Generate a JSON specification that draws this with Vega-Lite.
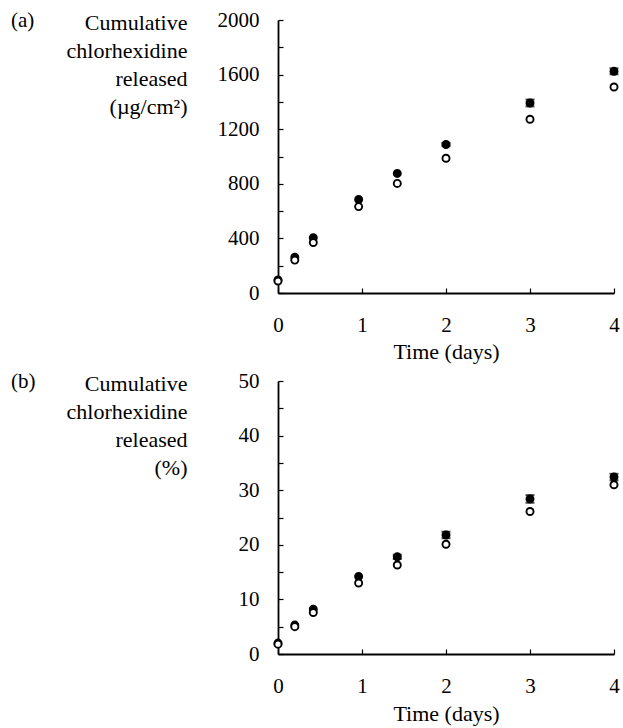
{
  "$schema": "https://vega.github.io/schema/vega-lite/v6.json",
  "background": "white",
  "padding": {"left": 11, "top": 9, "right": 5, "bottom": 3},
  "spacing": 8,
  "config": {
    "font": "Liberation Serif",
    "view": {"stroke": null},
    "axis": {
      "domainColor": "black", "domainWidth": 1.8,
      "tickColor": "black", "tickWidth": 1.2, "tickSize": -5,
      "labelFont": "Liberation Serif", "labelFontSize": 21, "labelColor": "black",
      "titleFont": "Liberation Serif", "titleFontSize": 22, "titleFontWeight": "normal", "titleColor": "black",
      "grid": false, "labelFlush": false, "labelOverlap": false
    },
    "title": {"font": "Liberation Serif", "fontSize": 21, "fontWeight": "normal", "color": "black", "anchor": "start", "frame": "group"}
  },
  "datasets": {
    "a": [
      {"series": "filled", "t": 0, "value": 95, "err": 0},
      {"series": "filled", "t": 0.2, "value": 262, "err": 0},
      {"series": "filled", "t": 0.42, "value": 405, "err": 0},
      {"series": "filled", "t": 0.96, "value": 685, "err": 0},
      {"series": "filled", "t": 1.42, "value": 876, "err": 0},
      {"series": "filled", "t": 2, "value": 1088, "err": 10},
      {"series": "filled", "t": 3, "value": 1392, "err": 25},
      {"series": "filled", "t": 4, "value": 1624, "err": 22},
      {"series": "open", "t": 0, "value": 88, "err": 0},
      {"series": "open", "t": 0.2, "value": 241, "err": 0},
      {"series": "open", "t": 0.42, "value": 370, "err": 0},
      {"series": "open", "t": 0.96, "value": 633, "err": 0},
      {"series": "open", "t": 1.42, "value": 803, "err": 0},
      {"series": "open", "t": 2, "value": 987, "err": 0},
      {"series": "open", "t": 3, "value": 1273, "err": 0},
      {"series": "open", "t": 4, "value": 1509, "err": 0}
    ],
    "b": [
      {"series": "filled", "t": 0, "value": 2.0, "err": 0},
      {"series": "filled", "t": 0.2, "value": 5.3, "err": 0},
      {"series": "filled", "t": 0.42, "value": 8.2, "err": 0},
      {"series": "filled", "t": 0.96, "value": 14.2, "err": 0},
      {"series": "filled", "t": 1.42, "value": 17.8, "err": 0.4},
      {"series": "filled", "t": 2, "value": 21.8, "err": 0.6},
      {"series": "filled", "t": 3, "value": 28.4, "err": 0.7},
      {"series": "filled", "t": 4, "value": 32.4, "err": 0.6},
      {"series": "open", "t": 0, "value": 1.8, "err": 0},
      {"series": "open", "t": 0.2, "value": 5.0, "err": 0},
      {"series": "open", "t": 0.42, "value": 7.6, "err": 0},
      {"series": "open", "t": 0.96, "value": 13.0, "err": 0},
      {"series": "open", "t": 1.42, "value": 16.3, "err": 0},
      {"series": "open", "t": 2, "value": 20.1, "err": 0},
      {"series": "open", "t": 3, "value": 26.1, "err": 0},
      {"series": "open", "t": 4, "value": 31.0, "err": 0}
    ]
  },
  "vconcat": [
    {
      "width": 336, "height": 273,
      "title": {"text": "(a)", "dx": -267, "dy": 26},
      "data": {"name": "a"},
      "encoding": {
        "x": {"field": "t", "type": "quantitative", "scale": {"domain": [0, 4], "nice": false},
          "axis": {"values": [0, 0.5, 1, 1.5, 2, 2.5, 3, 3.5, 4], "format": "d", "labelExpr": "datum.value % 1 === 0 ? datum.label : ''", "title": "Time (days)", "labelPadding": 26, "titlePadding": 6}},
        "y": {"field": "value", "type": "quantitative", "scale": {"domain": [0, 2000], "nice": false},
          "axis": {"values": [0, 200, 400, 600, 800, 1000, 1200, 1400, 1600, 1800, 2000], "format": "d", "labelExpr": "datum.value % 400 === 0 ? datum.label : ''",
            "title": ["Cumulative", "chlorhexidine", "released", "(µg/cm²)"], "titleAngle": 0, "titleAlign": "right", "titleBaseline": "alphabetic", "titleX": -91, "titleY": 9, "titleLineHeight": 28, "labelPadding": 24}}
      },
      "layer": [
        {
          "transform": [{"filter": "datum.err > 0"}],
          "mark": {"type": "errorbar", "ticks": {"size": 9, "thickness": 2}, "color": "black", "thickness": 2},
          "encoding": {"yError": {"field": "err"}}
        },
        {
          "mark": {"type": "point", "shape": "circle", "size": 50, "strokeWidth": 1.9, "stroke": "black", "opacity": 1},
          "encoding": {
            "fill": {"field": "series", "type": "nominal", "scale": {"domain": ["filled", "open"], "range": ["black", "white"]}, "legend": null}
          }
        }
      ]
    },
    {
      "width": 336, "height": 273,
      "title": {"text": "(b)", "dx": -267, "dy": 26},
      "data": {"name": "b"},
      "encoding": {
        "x": {"field": "t", "type": "quantitative", "scale": {"domain": [0, 4], "nice": false},
          "axis": {"values": [0, 0.5, 1, 1.5, 2, 2.5, 3, 3.5, 4], "format": "d", "labelExpr": "datum.value % 1 === 0 ? datum.label : ''", "title": "Time (days)", "labelPadding": 26, "titlePadding": 7}},
        "y": {"field": "value", "type": "quantitative", "scale": {"domain": [0, 50], "nice": false},
          "axis": {"values": [0, 5, 10, 15, 20, 25, 30, 35, 40, 45, 50], "format": "d", "labelExpr": "datum.value % 10 === 0 ? datum.label : ''",
            "title": ["Cumulative", "chlorhexidine", "released", "(%)"], "titleAngle": 0, "titleAlign": "right", "titleBaseline": "alphabetic", "titleX": -91, "titleY": 9, "titleLineHeight": 28, "labelPadding": 24}}
      },
      "layer": [
        {
          "transform": [{"filter": "datum.err > 0"}],
          "mark": {"type": "errorbar", "ticks": {"size": 9, "thickness": 2}, "color": "black", "thickness": 2},
          "encoding": {"yError": {"field": "err"}}
        },
        {
          "mark": {"type": "point", "shape": "circle", "size": 50, "strokeWidth": 1.9, "stroke": "black", "opacity": 1},
          "encoding": {
            "fill": {"field": "series", "type": "nominal", "scale": {"domain": ["filled", "open"], "range": ["black", "white"]}, "legend": null}
          }
        }
      ]
    }
  ]
}
